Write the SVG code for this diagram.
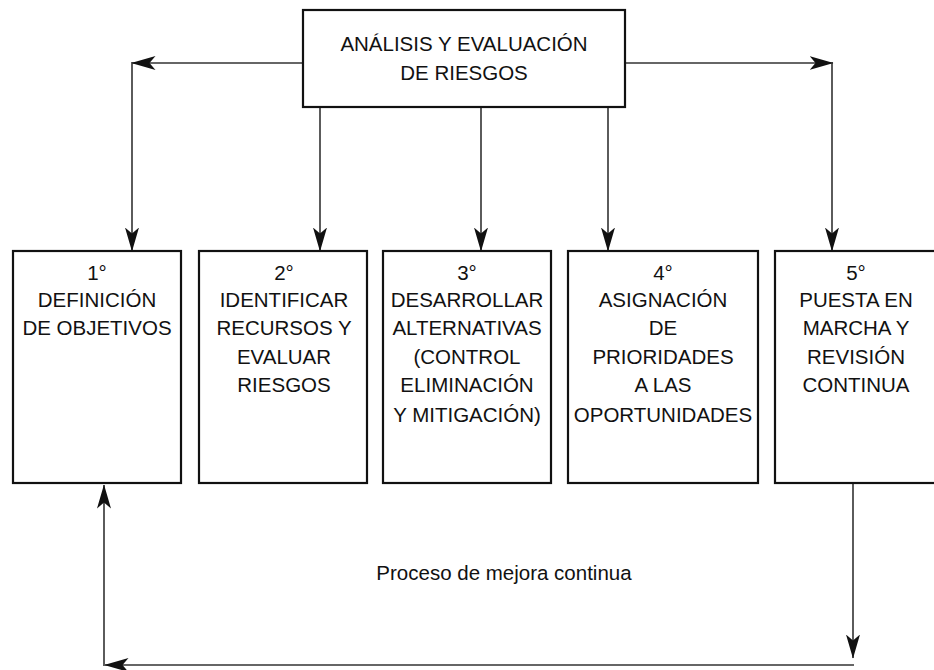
<svg xmlns="http://www.w3.org/2000/svg" width="934" height="670" viewBox="0 0 934 670">
<style>
.box{fill:#fff;stroke:#111;stroke-width:2.2}
.t{font-family:"Liberation Sans",Arial,sans-serif;font-size:20.5px;fill:#111;text-anchor:middle}
.c{fill:none;stroke:#333;stroke-width:1.6}
</style>
<defs>
<marker id="ah" viewBox="0 0 24 14" refX="23.5" refY="7" markerWidth="24" markerHeight="14" markerUnits="userSpaceOnUse" orient="auto">
<path d="M0,0 L24,7 L0,14 L6,7 Z" fill="#111"/>
</marker>
</defs>
<rect width="934" height="670" fill="#fff"/>
<g id="connectors">
<polyline class="c" points="303,63 132,63" marker-end="url(#ah)"/>
<polyline class="c" points="132,62 132,251" marker-end="url(#ah)"/>
<polyline class="c" points="625,63 833,63" marker-end="url(#ah)"/>
<polyline class="c" points="832,62 832,251" marker-end="url(#ah)"/>
<line class="c" x1="320" y1="107" x2="320" y2="251" marker-end="url(#ah)"/>
<line class="c" x1="481" y1="107" x2="481" y2="251" marker-end="url(#ah)"/>
<line class="c" x1="608" y1="107" x2="608" y2="251" marker-end="url(#ah)"/>
<line class="c" x1="853" y1="484" x2="853" y2="658" marker-end="url(#ah)"/>
<polyline class="c" points="854,665 105,665" marker-end="url(#ah)"/>
<polyline class="c" points="104,666 104,485" marker-end="url(#ah)"/>
</g>
<g id="top">
<rect class="box" x="303" y="10" width="322" height="97"/>
<text class="t" x="464" y="51">ANÁLISIS Y EVALUACIÓN</text>
<text class="t" x="464" y="80">DE RIESGOS</text>
</g>
<g id="n1">
<rect class="box" x="13" y="251" width="168" height="232"/>
<text class="t" x="97" y="280">1°</text>
<text class="t" x="97" y="307">DEFINICIÓN</text>
<text class="t" x="97" y="335">DE OBJETIVOS</text>
</g>
<g id="n2">
<rect class="box" x="199" y="251" width="168" height="232"/>
<text class="t" x="284" y="280">2°</text>
<text class="t" x="284" y="307">IDENTIFICAR</text>
<text class="t" x="284" y="335">RECURSOS Y</text>
<text class="t" x="284" y="364">EVALUAR</text>
<text class="t" x="284" y="392">RIESGOS</text>
</g>
<g id="n3">
<rect class="box" x="383" y="251" width="168" height="232"/>
<text class="t" x="467" y="280">3°</text>
<text class="t" x="467" y="307">DESARROLLAR</text>
<text class="t" x="467" y="335">ALTERNATIVAS</text>
<text class="t" x="467" y="364">(CONTROL</text>
<text class="t" x="467" y="392">ELIMINACIÓN</text>
<text class="t" x="467" y="422">Y MITIGACIÓN)</text>
</g>
<g id="n4">
<rect class="box" x="568" y="251" width="190" height="232"/>
<text class="t" x="663" y="280">4°</text>
<text class="t" x="663" y="307">ASIGNACIÓN</text>
<text class="t" x="663" y="335">DE</text>
<text class="t" x="663" y="364">PRIORIDADES</text>
<text class="t" x="663" y="392">A LAS</text>
<text class="t" x="663" y="422">OPORTUNIDADES</text>
</g>
<g id="n5">
<rect class="box" x="775" y="251" width="170" height="232"/>
<text class="t" x="856" y="280">5°</text>
<text class="t" x="856" y="307">PUESTA EN</text>
<text class="t" x="856" y="335">MARCHA Y</text>
<text class="t" x="856" y="364">REVISIÓN</text>
<text class="t" x="856" y="392">CONTINUA</text>
</g>
<text class="t" x="504" y="580">Proceso de mejora continua</text>
</svg>
